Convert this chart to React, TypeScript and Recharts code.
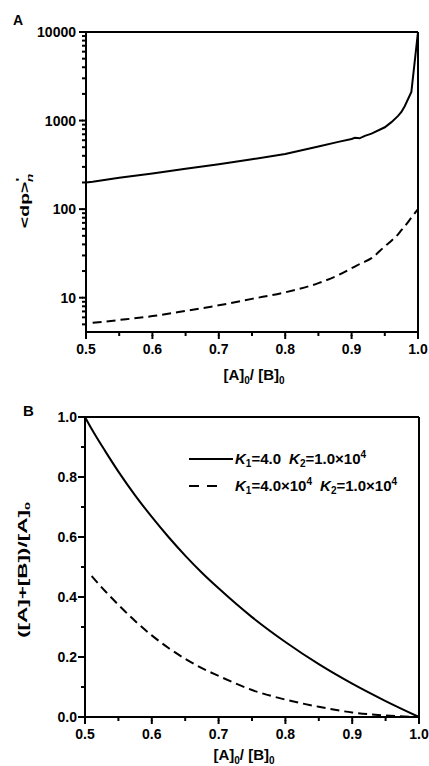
import { LineChart, Line, XAxis, YAxis, ReferenceLine } from "recharts"

// panel A: <dp>'n vs [A]0/[B]0 (log axis)
const ratioA = [0.5, 0.51, 0.55, 0.6, 0.65, 0.7, 0.75, 0.8, 0.85, 0.88, 0.9, 0.905, 0.912, 0.92, 0.93, 0.95, 0.96, 0.97, 0.975, 0.98, 0.99, 1.0]
const dpSolid = [200, 204, 226, 252, 285, 322, 366, 420, 510, 575, 620, 640, 630, 672, 712, 840, 960, 1130, 1250, 1450, 2100, 10000]
const dpDashed = [null, 5.2, 5.6, 6.2, 7.1, 8.2, 9.7, 11.5, 14.6, 18, 21.5, 22.5, 24, 25.5, 28, 38, 44, 52, 58, 64, 80, 100]

// panel B: ([A]+[B])/[A]0 vs [A]0/[B]0
const ratioB = [0.5, 0.51, 0.53, 0.55, 0.575, 0.6, 0.625, 0.65, 0.675, 0.7, 0.75, 0.8, 0.85, 0.9, 0.95, 1.0]
const fracSolid = [1.0, 0.96, 0.887, 0.818, 0.739, 0.667, 0.6, 0.538, 0.481, 0.429, 0.333, 0.25, 0.176, 0.111, 0.053, 0]
const fracDashed = [null, 0.47, 0.42, 0.374, 0.32, 0.272, 0.23, 0.194, 0.163, 0.137, 0.09, 0.058, 0.034, 0.015, 0.005, 0]

const xMajor = [0.5, 0.6, 0.7, 0.8, 0.9, 1.0]
const xMinor = [0.55, 0.65, 0.75, 0.85, 0.95]
const logMajor = [10, 100, 1000, 10000]
const logMinor = [5, 6, 7, 8, 9, 20, 30, 40, 50, 60, 70, 80, 90, 200, 300, 400, 500, 600, 700, 800, 900, 2000, 3000, 4000, 5000, 6000, 7000, 8000, 9000]
const linMajor = [0, 0.2, 0.4, 0.6, 0.8, 1.0]
const linMinor = [0.1, 0.3, 0.5, 0.7, 0.9]

const dataA = ratioA.map((x, i) => ({ x, solid: dpSolid[i], dashed: dpDashed[i] }))
const dataB = ratioB.map((x, i) => ({ x, solid: fracSolid[i], dashed: fracDashed[i] }))

const FONT = "'Liberation Sans', Arial, sans-serif"
const tickFont = { fontFamily: FONT, fontWeight: 700, fontSize: 14, fill: "#000" }
const MINOR = 4 // built-in tick length; majors are drawn 3px longer

const isIn = (list: number[], v: number) => list.some((t) => Math.abs(t - v) < 1e-9)

function makeYTick(majors: number[], fmt: (v: number) => string, gap: number) {
  return (p: any) => {
    const v = p.payload.value
    if (!isIn(majors, v)) return <g />
    return (
      <g>
        <line x1={p.x + 1} x2={p.x - 3} y1={p.y} y2={p.y} stroke="#000" strokeWidth={2} />
        <text x={p.x - gap} y={p.y + 5} textAnchor="end" style={tickFont}>
          {fmt(v)}
        </text>
      </g>
    )
  }
}

function XTick(p: any) {
  const v = p.payload.value
  if (!isIn(xMajor, v)) return <g />
  return (
    <g>
      <line x1={p.x} x2={p.x} y1={p.y - 1} y2={p.y + 3} stroke="#000" strokeWidth={2} />
      <text x={p.x} y={p.y + 18} textAnchor="middle" style={tickFont}>
        {v.toFixed(1)}
      </text>
    </g>
  )
}

const axisLine = { stroke: "#000", strokeWidth: 2 }
const tickLine = { stroke: "#000", strokeWidth: 2 }
const xTicks = [...xMajor, ...xMinor].sort((a, b) => a - b)

export default function App() {
  return (
    <div style={{ position: "absolute", left: 0, top: 0, width: 429, height: 766, background: "#fff", fontFamily: FONT }}>
      <div style={{ position: "absolute", left: 0, top: 0 }}>
        <LineChart width={429} height={383} data={dataA} margin={{ top: 32, right: 11, bottom: 0, left: 0 }}>
          <XAxis
            dataKey="x"
            type="number"
            domain={[0.5, 1]}
            ticks={xTicks}
            interval={0}
            height={51}
            tickSize={MINOR}
            tickMargin={0}
            tickLine={tickLine}
            axisLine={axisLine}
            tick={(p: any) => <XTick {...p} />}
          />
          <YAxis
            type="number"
            scale="log"
            domain={[4.1, 10000]}
            allowDataOverflow
            ticks={[...logMinor, ...logMajor].sort((a, b) => a - b)}
            interval={0}
            width={86}
            tickSize={MINOR}
            tickMargin={0}
            tickLine={tickLine}
            axisLine={axisLine}
            tick={makeYTick(logMajor, (v) => String(v), 6)}
          />
          <ReferenceLine y={10000} stroke="#000" strokeWidth={2} />
          <ReferenceLine x={1} stroke="#000" strokeWidth={2} />
          <Line dataKey="solid" type="linear" stroke="#000" strokeWidth={2} dot={false} isAnimationActive={false} />
          <Line dataKey="dashed" type="monotone" stroke="#000" strokeWidth={2} strokeDasharray="9 5" dot={false} isAnimationActive={false} />
        </LineChart>
      </div>
      <div style={{ position: "absolute", left: 0, top: 383 }}>
        <LineChart width={429} height={383} data={dataB} margin={{ top: 34, right: 10, bottom: 0, left: 0 }}>
          <XAxis
            dataKey="x"
            type="number"
            domain={[0.5, 1]}
            ticks={xTicks}
            interval={0}
            height={49}
            tickSize={MINOR}
            tickMargin={0}
            tickLine={tickLine}
            axisLine={axisLine}
            tick={(p: any) => <XTick {...p} />}
          />
          <YAxis
            type="number"
            domain={[0, 1]}
            ticks={[...linMajor, ...linMinor].sort((a, b) => a - b)}
            interval={0}
            width={85}
            tickSize={MINOR}
            tickMargin={0}
            tickLine={tickLine}
            axisLine={axisLine}
            tick={makeYTick(linMajor, (v) => v.toFixed(1), 4)}
          />
          <ReferenceLine y={1} stroke="#000" strokeWidth={2} />
          <ReferenceLine x={1} stroke="#000" strokeWidth={2} />
          <Line dataKey="solid" type="monotone" stroke="#000" strokeWidth={2} dot={false} isAnimationActive={false} />
          <Line dataKey="dashed" type="monotone" stroke="#000" strokeWidth={2} strokeDasharray="9 5" dot={false} isAnimationActive={false} />
        </LineChart>
      </div>

      <svg width={429} height={766} style={{ position: "absolute", left: 0, top: 0, pointerEvents: "none" }}>
        <g fontFamily={FONT} fontWeight={700} fill="#000">
          <text x={13} y={25} fontSize={14}>A</text>
          <text x={23} y={416} fontSize={15}>B</text>

          <text x={254} y={380} fontSize={15} textAnchor="middle">
            [A]<tspan dy={4} fontSize={10}>0</tspan>
            <tspan dy={-4}>/ [B]</tspan>
            <tspan dy={4} fontSize={10}>0</tspan>
          </text>
          <text x={244} y={760} fontSize={15} textAnchor="middle">
            [A]<tspan dy={4} fontSize={10}>0</tspan>
            <tspan dy={-4}>/ [B]</tspan>
            <tspan dy={4} fontSize={10}>0</tspan>
          </text>

          <text transform="translate(29,201) rotate(-90) scale(1.5,1)" fontSize={13} textAnchor="middle">
            {"<dp>"}
            <tspan dy={-5} fontSize={11}>'</tspan>
            <tspan dx={-3} dy={9} fontSize={9} fontStyle="italic">n</tspan>
          </text>
          <text transform="translate(27,570) rotate(-90) scale(1.8,1)" fontSize={12.5} textAnchor="middle">
            ([A]+[B])/[A]<tspan dy={3} fontSize={8}>0</tspan>
          </text>

          <line x1={189} x2={233} y1={459} y2={459} stroke="#000" strokeWidth={2} />
          <text x={235} y={464} fontSize={15}>
            <tspan fontStyle="italic">K</tspan>
            <tspan dy={3} fontSize={10}>1</tspan>
            <tspan dy={-3}>=4.0</tspan>
            <tspan dx={8} fontStyle="italic">K</tspan>
            <tspan dy={3} fontSize={10}>2</tspan>
            <tspan dy={-3}>=1.0×10</tspan>
            <tspan dy={-6} fontSize={10}>4</tspan>
          </text>

          <line x1={189} x2={220} y1={486} y2={486} stroke="#000" strokeWidth={2} strokeDasharray="10 8" />
          <text x={235} y={491} fontSize={15}>
            <tspan fontStyle="italic">K</tspan>
            <tspan dy={3} fontSize={10}>1</tspan>
            <tspan dy={-3}>=4.0×10</tspan>
            <tspan dy={-6} fontSize={10}>4</tspan>
            <tspan dx={8} dy={6} fontStyle="italic">K</tspan>
            <tspan dy={3} fontSize={10}>2</tspan>
            <tspan dy={-3}>=1.0×10</tspan>
            <tspan dy={-6} fontSize={10}>4</tspan>
          </text>
        </g>
      </svg>
    </div>
  )
}
